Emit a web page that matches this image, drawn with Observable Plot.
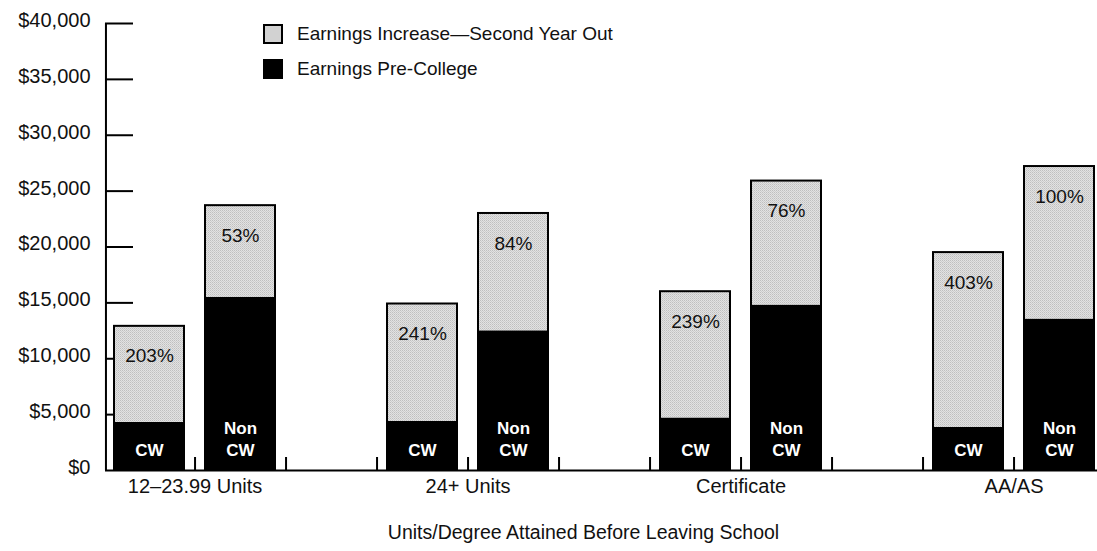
<!DOCTYPE html>
<html>
<head>
<meta charset="utf-8">
<script src="https://cdn.jsdelivr.net/npm/d3@7"></script>
<script src="https://cdn.jsdelivr.net/npm/@observablehq/plot@0.6"></script>
<style>
  html, body { margin: 0; padding: 0; background: #fff; }
  #wrap { position: relative; width: 1097px; height: 551px; font-family: "Liberation Sans", Arial, sans-serif; color: #111; }
  #legend { position: absolute; left: 263px; top: 23px; }
  .item { display: flex; align-items: center; height: 21px; margin-bottom: 14px; font-size: 19px; white-space: nowrap; }
  .sw { width: 20px; height: 20px; box-sizing: border-box; border: 2px solid #000; margin-right: 14px; }
</style>
</head>
<body>
<div id="wrap"><div id="legend"></div></div>
<script>
// ---- data ----
const categories = ["12–23.99 Units", "24+ Units", "Certificate", "AA/AS"];
const groups = ["CW", "Non CW"];
const preCW = [4300, 4400, 4700, 3850];
const preNonCW = [15500, 12500, 14800, 13550];
const totalCW = [12900, 14900, 16000, 19500];
const totalNonCW = [23700, 23000, 25900, 27200];
const pctCW = ["203%", "241%", "239%", "403%"];
const pctNonCW = ["53%", "84%", "76%", "100%"];
const yTicks = [0, 5000, 10000, 15000, 20000, 25000, 30000, 35000, 40000];
const legendLabels = ["Earnings Increase—Second Year Out", "Earnings Pre-College"];
const xTitle = "Units/Degree Attained Before Leaving School";

// ---- derived table ----
const slots = [];
categories.forEach((c, i) => {
  slots.push(c + "|" + groups[0], c + "|" + groups[1]);
  if (i < categories.length - 1) slots.push("gap" + i);
});
const rows = categories.flatMap((c, i) => [
  {slot: c + "|" + groups[0], grp: groups[0], pre: preCW[i], total: totalCW[i], pct: pctCW[i]},
  {slot: c + "|" + groups[1], grp: groups[1], pre: preNonCW[i], total: totalNonCW[i], pct: pctNonCW[i]}
]);

// ---- layout ----
const W = 1097, H = 551, mt = 23, mb = 81, ml = 105;
const x0 = 103, x1 = 1105;
const step = (x1 - x0) / slots.length;
const font = "'Liberation Sans', Arial, sans-serif";
const fmt = d => "$" + d3.format(",")(d);

const defs = () => {
  const ns = "http://www.w3.org/2000/svg";
  const d = document.createElementNS(ns, "defs");
  d.innerHTML = `<pattern id="stip" width="2" height="2" patternUnits="userSpaceOnUse">
    <rect width="2" height="2" fill="#e2e2e2"/>
    <rect width="1" height="1" fill="#bfbfbf"/>
    <rect x="1" y="1" width="1" height="1" fill="#cdcdcd"/>
  </pattern>`;
  return d;
};

const chart = Plot.plot({
  width: W, height: H,
  marginTop: mt, marginBottom: mb, marginLeft: ml, marginRight: 0,
  style: {fontFamily: font, fontSize: "20px", color: "#111", background: "#fff", overflow: "visible"},
  x: {type: "band", domain: slots, range: [x0, x1], paddingInner: 0.23, paddingOuter: 0.115, axis: null},
  y: {domain: [0, 40000], axis: null},
  marks: [
    defs,
    Plot.axisY(yTicks, {tickSize: 0, tickPadding: 15, tickFormat: fmt, fontSize: 20, dy: -3, label: null}),
    Plot.ruleY(yTicks.filter(d => d > 0), {y: d => d, stroke: "#000", strokeWidth: 2, insetRight: W - 133}),
    Plot.barY(rows, {x: "slot", y1: 0, y2: "pre", fill: "#000"}),
    Plot.barY(rows, {x: "slot", y1: "pre", y2: "total", fill: "url(#stip)"}),
    Plot.barY(rows, {x: "slot", y1: 0, y2: "total", fill: "none", stroke: "#000", strokeWidth: 2}),
    Plot.ruleX([slots[0]], {x: d => d, y1: 0, y2: 40000, dx: ml - (x0 + step / 2), stroke: "#000", strokeWidth: 2}),
    Plot.ruleX(slots.slice(0, slots.length - 1), {x: d => d, dx: step / 2, stroke: "#000", strokeWidth: 2, insetTop: (H - mt - mb) - 13}),
    Plot.ruleY([0], {stroke: "#000", strokeWidth: 2}),
    Plot.text(rows, {x: "slot", y: "total", text: "pct", dy: 30, fontSize: 19, fill: "#111"}),
    Plot.text(rows, {x: "slot", y: 0, text: d => d.grp === groups[0] ? "CW" : "Non\nCW", fill: "#fff",
      fontWeight: "bold", fontSize: 17, lineAnchor: "bottom", lineHeight: 1.25, dy: -15}),
    Plot.text(categories, {x: d => d + "|" + groups[0], dx: step / 2, frameAnchor: "bottom", dy: 22, text: d => d, fontSize: 20, fill: "#111"}),
    Plot.text([xTitle], {frameAnchor: "bottom", dx: -18, dy: 68, text: d => d, fontSize: 19.5, fill: "#111"})
  ]
});
document.getElementById("wrap").prepend(chart);

const legend = document.getElementById("legend");
const swFills = ["#d2d2d2", "#000"];
legendLabels.forEach((l, i) => {
  const it = document.createElement("div");
  it.className = "item";
  const sw = document.createElement("div");
  sw.className = "sw";
  sw.style.background = swFills[i];
  const tx = document.createElement("span");
  tx.textContent = l;
  it.append(sw, tx);
  legend.append(it);
});
</script>
</body>
</html>
